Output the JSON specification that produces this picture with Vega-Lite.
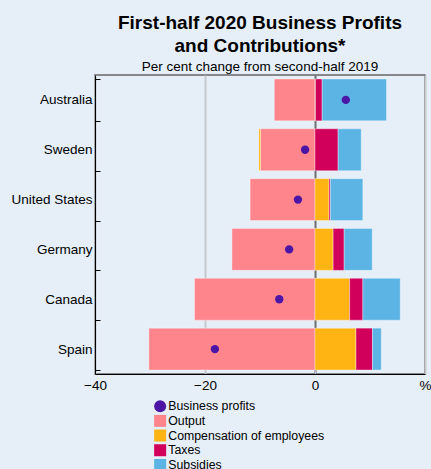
{
  "$schema": "https://vega.github.io/schema/vega-lite/v6.json",
  "width": 330,
  "height": 299,
  "autosize": {"type": "none"},
  "padding": {"left": 95, "top": 75, "right": 6, "bottom": 95},
  "background": "#e6eff8",
  "title": {
    "text": ["First-half 2020 Business Profits", "and Contributions*"],
    "subtitle": "Per cent change from second-half 2019",
    "anchor": "middle",
    "frame": "group",
    "font": "Liberation Sans",
    "fontSize": 19,
    "fontWeight": "bold",
    "lineHeight": 23,
    "color": "#000000",
    "subtitleFont": "Liberation Sans",
    "subtitleFontSize": 13.5,
    "subtitleColor": "#000000",
    "subtitlePadding": 4,
    "offset": -5.5
  },
  "data": {
    "values": [
      {"country": "Australia", "series": "Output", "value": -7.4, "ord": 1},
      {"country": "Australia", "series": "Compensation of employees", "value": 0.1, "ord": 2},
      {"country": "Australia", "series": "Taxes", "value": 1.2, "ord": 3},
      {"country": "Australia", "series": "Subsidies", "value": 11.7, "ord": 4},
      {"country": "Australia", "series": "Business profits", "value": 5.6, "ord": 0},
      {"country": "Sweden", "series": "Output", "value": -9.9, "ord": 1},
      {"country": "Sweden", "series": "Compensation of employees", "value": -0.3, "ord": 2},
      {"country": "Sweden", "series": "Taxes", "value": 4.2, "ord": 3},
      {"country": "Sweden", "series": "Subsidies", "value": 4.2, "ord": 4},
      {"country": "Sweden", "series": "Business profits", "value": -1.8, "ord": 0},
      {"country": "United States", "series": "Output", "value": -11.8, "ord": 1},
      {"country": "United States", "series": "Compensation of employees", "value": 2.55, "ord": 2},
      {"country": "United States", "series": "Taxes", "value": 0.25, "ord": 3},
      {"country": "United States", "series": "Subsidies", "value": 5.9, "ord": 4},
      {"country": "United States", "series": "Business profits", "value": -3.1, "ord": 0},
      {"country": "Germany", "series": "Output", "value": -15.1, "ord": 1},
      {"country": "Germany", "series": "Compensation of employees", "value": 3.3, "ord": 2},
      {"country": "Germany", "series": "Taxes", "value": 2.0, "ord": 3},
      {"country": "Germany", "series": "Subsidies", "value": 5.1, "ord": 4},
      {"country": "Germany", "series": "Business profits", "value": -4.7, "ord": 0},
      {"country": "Canada", "series": "Output", "value": -21.9, "ord": 1},
      {"country": "Canada", "series": "Compensation of employees", "value": 6.3, "ord": 2},
      {"country": "Canada", "series": "Taxes", "value": 2.4, "ord": 3},
      {"country": "Canada", "series": "Subsidies", "value": 6.8, "ord": 4},
      {"country": "Canada", "series": "Business profits", "value": -6.5, "ord": 0},
      {"country": "Spain", "series": "Output", "value": -30.2, "ord": 1},
      {"country": "Spain", "series": "Compensation of employees", "value": 7.45, "ord": 2},
      {"country": "Spain", "series": "Taxes", "value": 3.0, "ord": 3},
      {"country": "Spain", "series": "Subsidies", "value": 1.6, "ord": 4},
      {"country": "Spain", "series": "Business profits", "value": -18.2, "ord": 0}
    ]
  },
  "encoding": {
    "y": {
      "field": "country",
      "type": "nominal",
      "sort": ["Australia", "Sweden", "United States", "Germany", "Canada", "Spain"],
      "scale": {"paddingInner": 0.16, "paddingOuter": 0.08},
      "axis": {
        "title": null,
        "labelFont": "Liberation Sans",
        "labelFontSize": 13.5,
        "labelColor": "#000000",
        "labelPadding": 8,
        "tickBand": "extent",
        "tickSize": -5,
        "tickColor": "#000000",
        "domainColor": "#000000",
        "domainWidth": 1,
        "grid": false
      }
    }
  },
  "layer": [
    {
      "transform": [{"filter": "datum.series !== 'Business profits'"}],
      "mark": {"type": "bar", "stroke": "#ffffff", "strokeOpacity": 0.35, "strokeWidth": 1},
      "encoding": {
        "x": {
          "field": "value",
          "type": "quantitative",
          "stack": "zero",
          "scale": {"domain": [-40, 20], "nice": false},
          "axis": {
            "title": null,
            "values": [-40, -20, 0, 20],
            "labelExpr": "datum.value === 20 ? '%' : datum.label",
            "labelFlush": false,
            "labelFont": "Liberation Sans",
            "labelFontSize": 13.5,
            "labelColor": "#000000",
            "labelPadding": 8,
            "tickSize": -4,
            "tickColor": "#c5c9cc",
            "domainColor": "#000000",
            "domainWidth": 1,
            "grid": true,
            "gridColor": {"condition": {"test": "datum.value === 0", "value": "#6f6f6f"}, "value": "#c5c9cc"},
            "gridWidth": 2
          }
        },
        "color": {
          "field": "series",
          "type": "nominal",
          "scale": {
            "domain": ["Business profits", "Output", "Compensation of employees", "Taxes", "Subsidies"],
            "range": ["#4b16a6", "#ff858d", "#ffb414", "#d1005a", "#5cb4e4"]
          },
          "legend": {
            "title": null,
            "orient": "none",
            "legendX": 59,
            "legendY": 325,
            "direction": "vertical",
            "padding": 0,
            "symbolSize": 144,
            "symbolStrokeWidth": 0,
            "labelFont": "Liberation Sans",
            "labelFontSize": 12.3,
            "labelColor": "#000000",
            "labelOffset": 2,
            "rowPadding": 1.7
          }
        },
        "order": {"field": "ord", "type": "quantitative"}
      }
    },
    {
      "transform": [{"filter": "datum.series === 'Business profits'"}],
      "mark": {"type": "point", "filled": true, "size": 70, "opacity": 1},
      "encoding": {
        "x": {"field": "value", "type": "quantitative"},
        "color": {"field": "series", "type": "nominal"},
        "shape": {
          "field": "series",
          "type": "nominal",
          "scale": {
            "domain": ["Business profits", "Output", "Compensation of employees", "Taxes", "Subsidies"],
            "range": ["circle", "square", "square", "square", "square"]
          }
        }
      }
    }
  ],
  "config": {
    "view": {"stroke": "#666666", "strokeWidth": 1.5},
    "font": "Liberation Sans"
  }
}
